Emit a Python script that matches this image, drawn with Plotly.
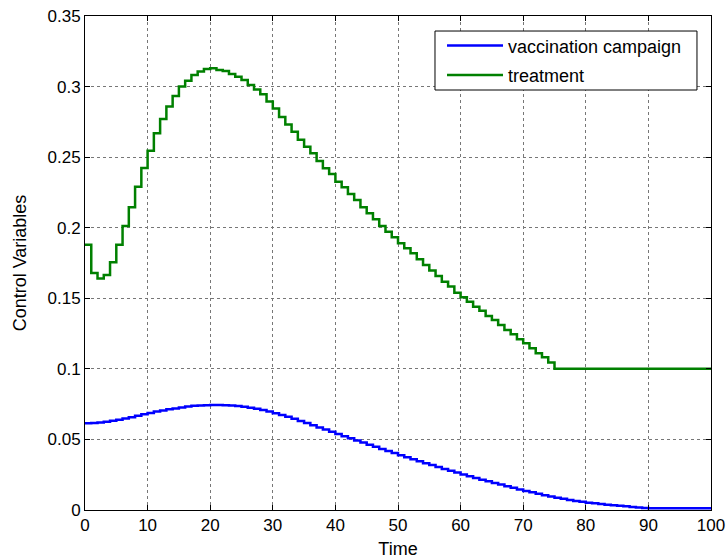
import plotly.graph_objects as go

# Time grid (days) and the two optimal control profiles
time = list(range(0, 101))

vaccination_campaign = [
    0.0614, 0.0616, 0.0620, 0.0625, 0.0632, 0.0640, 0.0648, 0.0658, 0.0668, 0.0678,
    0.0688, 0.0697, 0.0705, 0.0713, 0.0720, 0.0727, 0.0733, 0.0738, 0.0741, 0.0743,
    0.0744, 0.0744, 0.0743, 0.0741, 0.0737, 0.0732, 0.0725, 0.0717, 0.0708, 0.0697,
    0.0686, 0.0673, 0.0660, 0.0646, 0.0631, 0.0616, 0.0601, 0.0585, 0.0570, 0.0554,
    0.0538, 0.0523, 0.0508, 0.0493, 0.0478, 0.0463, 0.0448, 0.0433, 0.0418, 0.0403,
    0.0388, 0.0374, 0.0360, 0.0346, 0.0332, 0.0318, 0.0305, 0.0291, 0.0278, 0.0265,
    0.0252, 0.0240, 0.0227, 0.0215, 0.0203, 0.0191, 0.0180, 0.0168, 0.0157, 0.0146,
    0.0135, 0.0125, 0.0115, 0.0105, 0.0096, 0.0087, 0.0079, 0.0071, 0.0064, 0.0058,
    0.0052, 0.0047, 0.0042, 0.0037, 0.0033, 0.0030, 0.0026, 0.0022, 0.0018, 0.0015,
    0.0013, 0.0012, 0.0012, 0.0012, 0.0012, 0.0012, 0.0012, 0.0012, 0.0012, 0.0012,
    0.0012,
]

treatment = [
    0.1880, 0.1680, 0.1640, 0.1665, 0.1755, 0.1880, 0.2012, 0.2145, 0.2291, 0.2423,
    0.2546, 0.2669, 0.2770, 0.2858, 0.2933, 0.3000, 0.3042, 0.3082, 0.3106, 0.3125,
    0.3130, 0.3117, 0.3110, 0.3089, 0.3070, 0.3047, 0.3012, 0.2980, 0.2945, 0.2895,
    0.2845, 0.2785, 0.2732, 0.2680, 0.2624, 0.2574, 0.2527, 0.2473, 0.2421, 0.2381,
    0.2326, 0.2286, 0.2239, 0.2196, 0.2145, 0.2102, 0.2060, 0.2012, 0.1972, 0.1932,
    0.1890, 0.1854, 0.1819, 0.1776, 0.1736, 0.1696, 0.1658, 0.1618, 0.1583, 0.1540,
    0.1507, 0.1476, 0.1440, 0.1412, 0.1375, 0.1346, 0.1311, 0.1275, 0.1245, 0.1210,
    0.1181, 0.1146, 0.1110, 0.1082, 0.1045, 0.1000, 0.1000, 0.1000, 0.1000, 0.1000,
    0.1000, 0.1000, 0.1000, 0.1000, 0.1000, 0.1000, 0.1000, 0.1000, 0.1000, 0.1000,
    0.1000, 0.1000, 0.1000, 0.1000, 0.1000, 0.1000, 0.1000, 0.1000, 0.1000, 0.1000,
    0.1000,
]

x_ticks = list(range(0, 101, 10))
y_ticks = [0, 0.05, 0.1, 0.15, 0.2, 0.25, 0.3, 0.35]
y_tick_labels = ["0", "0.05", "0.1", "0.15", "0.2", "0.25", "0.3", "0.35"]

FONT = "Liberation Sans, Arial, sans-serif"

fig = go.Figure()
fig.add_trace(go.Scatter(
    x=time, y=vaccination_campaign, mode="lines", line_shape="hv",
    name="vaccination campaign", legendgroup="u1",
    line=dict(color="#0000ff", width=2.5),
))
fig.add_trace(go.Scatter(
    x=time, y=treatment, mode="lines", line_shape="hv",
    name="treatment", legendgroup="u2",
    line=dict(color="#008000", width=2.5),
))

axis_common = dict(
    showline=True, linecolor="black", linewidth=1, mirror="ticks",
    ticks="inside", ticklen=5, tickcolor="black", tickwidth=1,
    showgrid=True, gridcolor="#777777", griddash="dot", gridwidth=1,
    zeroline=False, automargin=False,
    tickfont=dict(family=FONT, size=17, color="black"),
)

fig.update_xaxes(
    range=[0, 100], tickvals=x_ticks,
    title=dict(text="Time", font=dict(family=FONT, size=18, color="black"), standoff=10),
    **axis_common,
)
fig.update_yaxes(
    range=[0, 0.35], tickvals=y_ticks, ticktext=y_tick_labels,
    title=dict(text="Control Variables", font=dict(family=FONT, size=18, color="black"), standoff=16),
    **axis_common,
)

# Legend frame: white box with a thin black border behind the legend entries
fig.add_shape(
    type="rect", xref="paper", yref="paper",
    x0=0.5591, x1=0.9776, y0=0.8502, y1=0.9696,
    fillcolor="white", line=dict(color="black", width=1), layer="above",
)

fig.update_layout(
    width=726, height=559,
    margin=dict(l=85, r=15, t=16, b=49),
    paper_bgcolor="white", plot_bgcolor="white",
    font=dict(family=FONT, size=17, color="black"),
    legend=dict(
        x=0.5703, y=0.977, xanchor="left", yanchor="top",
        bgcolor="rgba(0,0,0,0)", borderwidth=0,
        font=dict(family=FONT, size=18, color="black"),
        itemwidth=56, tracegroupgap=3,
    ),
    showlegend=True,
)

fig.write_html("out.html")
